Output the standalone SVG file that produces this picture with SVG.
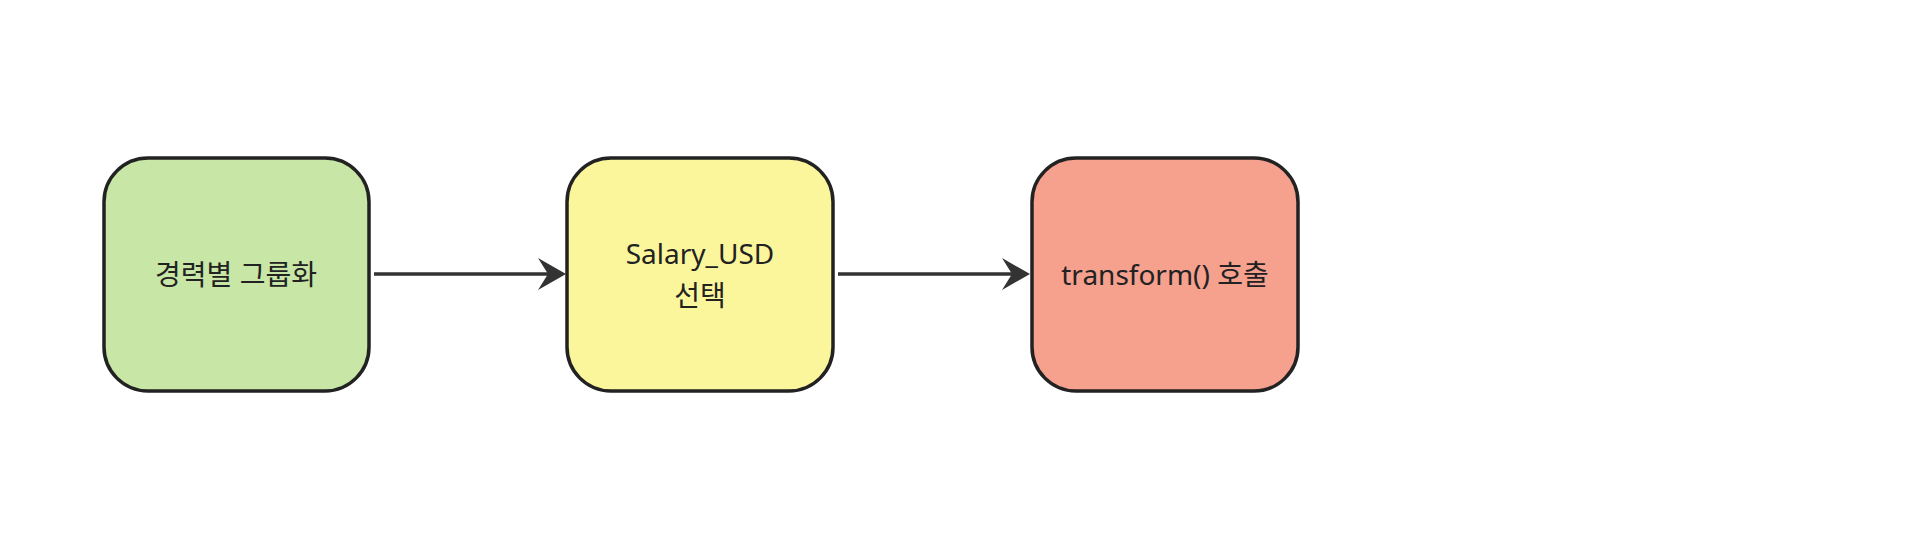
<svg xmlns="http://www.w3.org/2000/svg" width="1912" height="544" viewBox="0 0 1912 544">
<style>
.n{stroke:#222;stroke-width:3.5}
.t{font-family:"Noto Sans","Noto Sans CJK KR",sans-serif;font-size:28px;fill:#222;text-anchor:middle;dominant-baseline:central}
.c{stroke:#333;stroke-width:3.5;fill:none}
</style>
<defs><marker id="a" markerWidth="12" markerHeight="12" refX="10" refY="6" orient="auto" markerUnits="userSpaceOnUse"><path d="M0,0 L12,6 L0,12 L4,6 Z" fill="#333"/></marker></defs>
<rect width="1912" height="544" fill="#fff"/>
<g id="connectors">
<line class="c" x1="374" y1="274" x2="562" y2="274" marker-end="url(#a)" style="marker-end:none"/>
<path d="M538,258 L566,274 L538,290 L548,274 Z" fill="#333"/>
<line class="c" x1="838" y1="274" x2="1026" y2="274"/>
<path d="M1002,258 L1030,274 L1002,290 L1012,274 Z" fill="#333"/>
</g>
<g id="n1"><rect class="n" x="104" y="158" width="265" height="233" rx="44" fill="#c8e6a5"/><text class="t" x="236" y="274">경력별 그룹화</text></g>
<g id="n2"><rect class="n" x="567" y="158" width="266" height="233" rx="44" fill="#fbf69c"/><text class="t" x="700" y="253">Salary_USD</text><text class="t" x="700" y="295">선택</text></g>
<g id="n3"><rect class="n" x="1032" y="158" width="266" height="233" rx="44" fill="#f6a08e"/><text class="t" x="1165" y="274">transform() 호출</text></g>
</svg>
